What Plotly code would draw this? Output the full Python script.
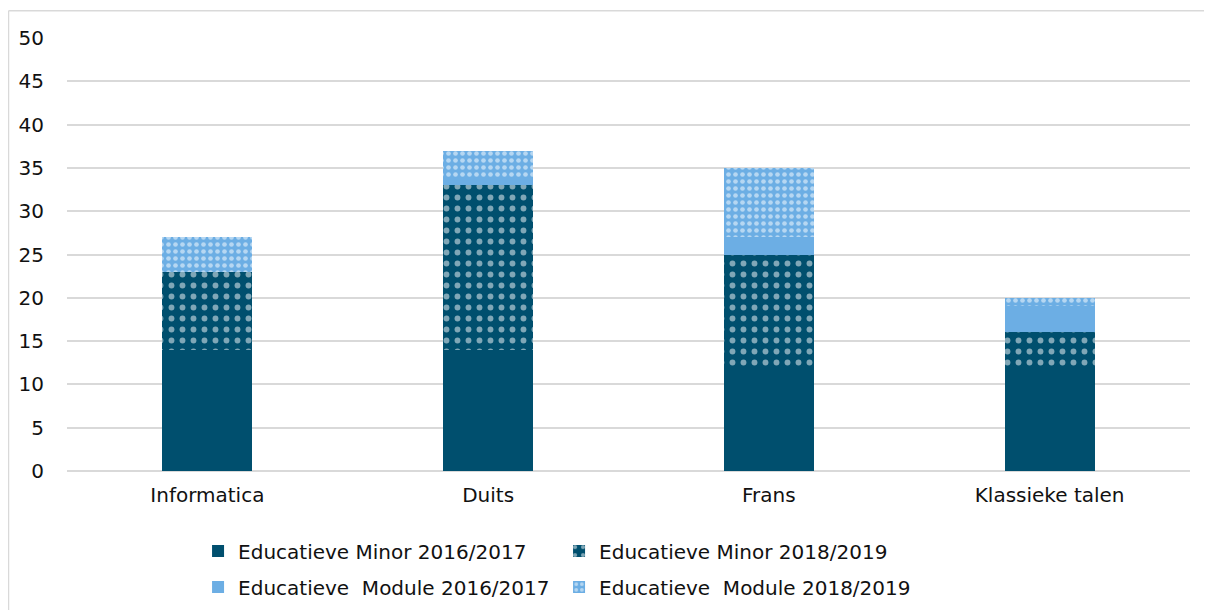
import plotly.graph_objects as go

categories = ["Informatica", "Duits", "Frans", "Klassieke talen"]
minor_1617 = [14, 14, 12, 12]
minor_1819 = [9, 19, 13, 4]
module_1617 = [0, 1, 2, 3]
module_1819 = [4, 3, 8, 1]
y_ticks = [0, 5, 10, 15, 20, 25, 30, 35, 40, 45, 50]

dark = "#004F6E"
light = "#6CAEE4"
font = "DejaVu Sans"
fs = 20

fig = go.Figure()
fig.add_bar(x=categories, y=minor_1617, name="Educatieve Minor 2016/2017",
            marker=dict(color=dark, line=dict(width=0)), legend="legend")
fig.add_bar(x=categories, y=minor_1819, name="Educatieve Minor 2018/2019",
            marker=dict(color=dark, line=dict(width=0),
                        pattern=dict(shape=".", fgcolor="white", bgcolor=dark,
                                     size=11, solidity=0.22)), legend="legend")
fig.add_bar(x=categories, y=module_1617, name="Educatieve  Module 2016/2017",
            marker=dict(color=light, line=dict(width=0)), legend="legend2")
fig.add_bar(x=categories, y=module_1819, name="Educatieve  Module 2018/2019",
            marker=dict(color=light, line=dict(width=0),
                        pattern=dict(shape=".", fgcolor="white", bgcolor=light,
                                     size=7, solidity=0.35)), legend="legend2")

fig.update_layout(
    width=1212, height=610,
    barmode="stack", bargap=0.68,
    margin=dict(l=59, r=30, t=30, b=145),
    plot_bgcolor="white", paper_bgcolor="white",
    font=dict(family=font, size=fs, color="#111111"),
    xaxis=dict(showgrid=False, ticks="", showline=False, tickfont=dict(size=fs),
               ticklabelstandoff=10),
    yaxis=dict(range=[0, 50], tickvals=y_ticks, showgrid=True, gridcolor="#D9D9D9",
               gridwidth=1.5, zeroline=True, zerolinecolor="#D9D9D9", zerolinewidth=1.5,
               ticks="", tickfont=dict(size=fs), ticklabelstandoff=22),
    legend=dict(orientation="h", x=0.1167, y=-0.140, xanchor="left", yanchor="top",
                entrywidth=316, entrywidthmode="pixels", itemwidth=30,
                traceorder="normal", font=dict(size=fs), tracegroupgap=0),
    legend2=dict(orientation="h", x=0.1167, y=-0.223, xanchor="left", yanchor="top",
                 entrywidth=316, entrywidthmode="pixels", itemwidth=30,
                 traceorder="normal", font=dict(size=fs), tracegroupgap=0),
    showlegend=True,
)
fig.add_shape(type="line", xref="paper", yref="paper", x0=-0.0521, x1=-0.0521,
              y0=-0.5, y1=1.063, line=dict(color="#D9D9D9", width=1.5))
fig.add_shape(type="line", xref="paper", yref="paper", x0=-0.0521, x1=1.05,
              y0=1.063, y1=1.063, line=dict(color="#D9D9D9", width=1.5))

fig.write_html("out.html")
